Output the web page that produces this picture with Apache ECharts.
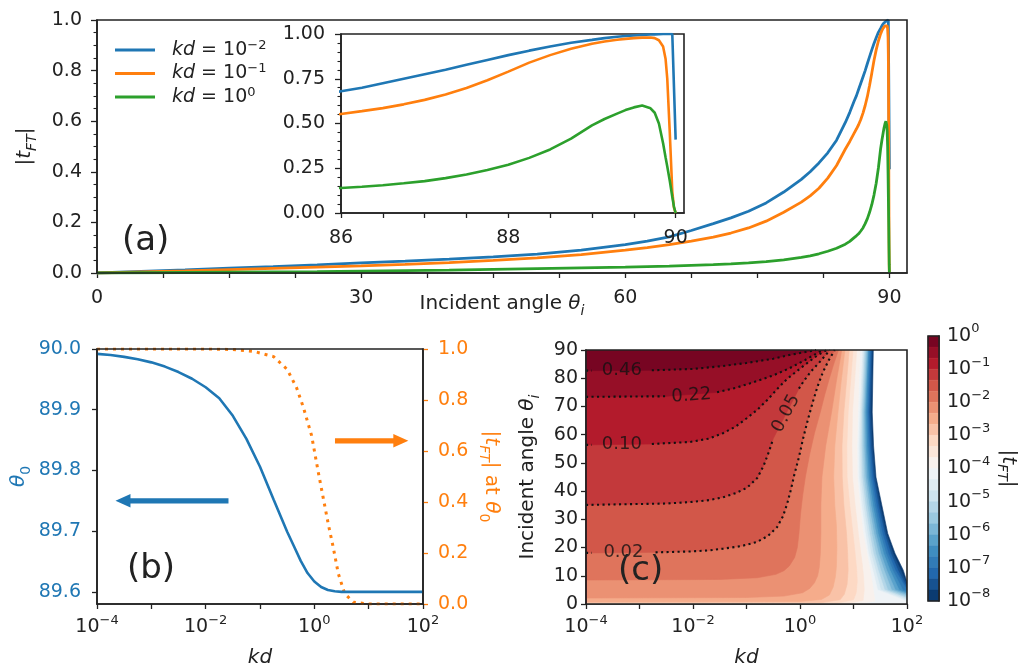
<!DOCTYPE html>
<html>
<head>
<meta charset="utf-8">
<script src="https://cdn.jsdelivr.net/npm/echarts@6.0.0/dist/echarts.min.js"></script>
<style>
html,body{margin:0;padding:0;background:#ffffff;}
#chart{width:1032px;height:670px;}
</style>
</head>
<body>
<div id="chart"></div>
<script>
// ================= Panel (a): |t_FT| versus incident angle =================
const angleA = [0,5,10,15,20,25,30,35,40,45,50,55,60,62.5,65,67.5,70,72,74,76,78,80,81,82,83,84,85,85.5,86,86.25,86.5,86.75,87,87.25,87.5,87.75,88,88.25,88.5,88.75,89,89.15,89.3,89.4,89.5,89.6,89.7,89.75,89.8,89.85,89.88,89.9,89.93,89.96,89.98,90];
const tKdEm2 = [0,0.006,0.012,0.019,0.025,0.032,0.04,0.047,0.055,0.064,0.075,0.09,0.112,0.126,0.143,0.168,0.195,0.218,0.244,0.277,0.32,0.37,0.40,0.435,0.475,0.525,0.595,0.635,0.68,0.70,0.725,0.75,0.775,0.80,0.828,0.855,0.882,0.907,0.93,0.951,0.967,0.977,0.985,0.989,0.992,0.995,0.997,0.998,0.999,1.0,1.0,1.0,1.0,1.0,1.0,0.41];
const tKdEm1 = [0,0.004,0.008,0.013,0.018,0.023,0.028,0.034,0.041,0.05,0.06,0.073,0.09,0.1,0.112,0.126,0.142,0.158,0.178,0.205,0.24,0.28,0.305,0.335,0.375,0.425,0.49,0.52,0.553,0.569,0.586,0.607,0.632,0.662,0.698,0.742,0.79,0.84,0.882,0.917,0.945,0.958,0.968,0.973,0.977,0.98,0.98,0.977,0.965,0.93,0.86,0.75,0.45,0.12,0.03,0];
const tKdE0  = [0,0.001,0.002,0.003,0.004,0.005,0.007,0.009,0.011,0.014,0.017,0.02,0.023,0.025,0.027,0.03,0.033,0.036,0.04,0.045,0.052,0.062,0.068,0.076,0.086,0.098,0.114,0.125,0.14,0.147,0.155,0.166,0.178,0.195,0.215,0.24,0.27,0.308,0.355,0.415,0.49,0.525,0.555,0.575,0.59,0.6,0.585,0.56,0.5,0.39,0.31,0.26,0.18,0.09,0.035,0];
const legendA = ['kd1e-2','kd1e-1','kd1e0'];
const legendExp = ['−2','−1','0'];
const ticksAx = [0,7.5,15,22.5,30,37.5,45,52.5,60,67.5,75,82.5,90];
const labelsAx = [0,30,60,90];
const ticksInsetX = [86,86.5,87,87.5,88,88.5,89,89.5,90];
const labelsInsetX = [86,88,90];

// ================= Panel (b): theta_0 and |t_FT| at theta_0 versus kd =================
const kdExpTheta0 = [-4,-3.75,-3.5,-3.25,-3,-2.75,-2.5,-2.25,-2,-1.75,-1.5,-1.25,-1,-0.75,-0.5,-0.375,-0.25,-0.125,0,0.125,0.25,0.375,0.5,1,1.5,2];
const theta0 = [89.992,89.990,89.987,89.983,89.978,89.971,89.962,89.951,89.937,89.919,89.890,89.852,89.806,89.752,89.699,89.675,89.651,89.631,89.617,89.608,89.603,89.601,89.6,89.6,89.6,89.6];
const kdExpTAt = [-4,-3,-2,-1.5,-1.1,-0.75,-0.5,-0.33,-0.2,-0.05,0.07,0.16,0.26,0.35,0.44,0.56,0.72,1,2];
const tAtTheta0 = [1,1,1,0.998,0.99,0.97,0.92,0.85,0.77,0.66,0.52,0.42,0.31,0.22,0.12,0.04,0.007,0,0];
const theta0Ticks = [89.6,89.7,89.8,89.9,90.0];
const blueArrow = [-1.58,-3.66,89.75];   // from exp, to exp, theta0
const orangeArrow = [0.38,1.73,0.64];    // from exp, to exp, |t|

// ================= Panel (c): filled contours of |t_FT| (log10 kd, angle) =================
const levelExp = [0,-0.333,-0.667,-1,-1.333,-1.667,-2,-2.333,-2.667,-3,-3.333,-3.667,-4,-4.333,-4.667,-5,-5.333,-5.667,-6,-6.333,-6.667,-7,-7.333,-7.667,-8];
// boundary of region |t| >= level (points: [log10 kd, angle]); index 0 -> level 10^-1/3
const levelBoundaries = [
  [[-4,82.7],[-3.89,82.7],[-2.77,82.8],[-2,83.3],[-1.5,84.2],[-1,85.4],[-0.5,86.9],[-0.2,88.2],[0.3,90]],
  [[-4,73.4],[-2.5,73.6],[-1.55,75.0],[-1.2,76.6],[-0.93,78.2],[-0.5,81],[-0.19,83.6],[0.1,86.5],[0.32,88.9],[0.43,90]],
  [[-4,56.4],[-3.89,56.4],[-2.77,56.7],[-2.06,57.4],[-1.7,58.6],[-1.44,60.5],[-1.2,62.9],[-0.99,65.9],[-0.8,68.8],[-0.6,72.5],[-0.43,76.1],[-0.25,79.6],[-0.06,82.5],[0.15,85.6],[0.32,88],[0.5,90]],
  [[-4,35.1],[-2.5,35.6],[-2.06,36.1],[-1.7,36.8],[-1.44,37.8],[-1.2,39.3],[-0.99,41.2],[-0.8,44.6],[-0.68,49],[-0.58,54],[-0.5,58.6],[-0.02,76.3],[0.06,78.7],[0.2,82.3],[0.37,85.8],[0.56,90]],
  [[-4,18.1],[-3.89,18.1],[-2.7,18.3],[-2.06,18.6],[-1.7,19.0],[-1.44,19.6],[-1.1,20.5],[-0.8,22.0],[-0.6,24.1],[-0.43,27.2],[-0.32,31],[-0.24,35.5],[-0.17,40.5],[-0.11,45.5],[-0.02,52],[0.06,58.8],[0.15,65.5],[0.24,71.6],[0.33,77.2],[0.43,82.2],[0.54,86.5],[0.65,90]],
  [[-4,8.5],[-1.5,8.7],[-0.8,9.3],[-0.45,10.5],[-0.3,11.8],[-0.2,13.5],[-0.1,16.5],[-0.05,20],[-0.02,25],[0.01,32],[0.05,38.5],[0.1,45],[0.18,53],[0.27,60.5],[0.38,68],[0.46,74],[0.55,80],[0.63,85],[0.72,90]],
  [[-4,2.1],[-1,2.3],[-0.3,2.8],[0.05,4],[0.18,5.5],[0.27,7.5],[0.33,10],[0.36,13],[0.38,18],[0.39,25],[0.39,35],[0.41,45],[0.48,56],[0.59,68],[0.68,79],[0.78,90]],
  [[-4,0.7],[0,0.9],[0.4,1.6],[0.55,3.2],[0.62,6],[0.66,9.5],[0.68,13],[0.69,20],[0.68,28],[0.65,35],[0.63,45],[0.65,56],[0.71,68],[0.77,79],[0.84,90]],
  [[-4,0.35],[0.4,0.5],[0.75,1.5],[0.83,3.5],[0.88,7],[0.9,12],[0.89,18],[0.87,25],[0.82,35],[0.79,45],[0.785,56],[0.82,68],[0.87,79],[0.92,90]],
  [[-4,0.2],[0.7,0.35],[1.0,1.5],[1.05,4],[1.07,8],[1.06,12],[1.03,18],[0.99,25],[0.93,35],[0.88,45],[0.875,56],[0.9,68],[0.945,79],[0.99,90]],
  [[-4,0.1],[0.9,0.25],[1.18,1.3],[1.2,5],[1.19,9],[1.17,13],[1.13,19],[1.09,25],[1.03,35],[0.98,45],[0.97,56],[0.98,68],[1.02,79],[1.06,90]],
  [[-4,0.05],[1.1,0.15],[1.4,1],[1.37,5],[1.33,10],[1.29,14],[1.23,20],[1.18,25],[1.12,35],[1.07,45],[1.065,56],[1.08,68],[1.1,79],[1.12,90]],
  [[2,0],[2,1.0],[1.45,5],[1.36,12],[1.28,18],[1.22,25],[1.15,35],[1.10,45],[1.09,56],[1.11,68],[1.16,90]],
  [[2,0],[2,1.5],[1.51,5],[1.41,12],[1.325,18],[1.26,25],[1.185,35],[1.13,45],[1.12,56],[1.13,68],[1.18,90]],
  [[2,0],[2,2.0],[1.58,5],[1.46,12],[1.37,18],[1.30,25],[1.22,35],[1.16,45],[1.145,56],[1.15,68],[1.20,90]],
  [[2,0],[2,2.5],[1.64,5],[1.51,12],[1.415,18],[1.34,25],[1.255,35],[1.19,45],[1.17,56],[1.17,68],[1.22,90]],
  [[2,0],[2,3.0],[1.71,5],[1.57,12],[1.465,18],[1.38,25],[1.29,35],[1.22,45],[1.195,56],[1.19,68],[1.24,90]],
  [[2,0],[2,3.5],[1.78,5],[1.62,12],[1.51,18],[1.42,25],[1.325,35],[1.25,45],[1.22,56],[1.21,68],[1.26,90]],
  [[2,0],[2,4.0],[1.85,5],[1.68,12],[1.56,18],[1.46,25],[1.36,35],[1.28,45],[1.245,56],[1.23,68],[1.27,90]],
  [[2,0],[2,4.5],[1.92,5],[1.73,12],[1.605,18],[1.50,25],[1.395,35],[1.31,45],[1.27,56],[1.25,68],[1.29,90]],
  [[2,0],[2,5.0],[1.78,12],[1.65,18],[1.54,25],[1.43,35],[1.34,45],[1.295,56],[1.27,68],[1.31,90]],
  [[2,0],[2,5.8],[1.83,12],[1.695,18],[1.58,25],[1.465,35],[1.37,45],[1.32,56],[1.29,68],[1.33,90]],
  [[2,0],[2,6.8],[1.88,12],[1.735,18],[1.61,25],[1.495,35],[1.40,45],[1.35,56],[1.32,68],[1.35,90]],
  [[2,0],[2,7.8],[1.93,12],[1.775,18],[1.64,25],[1.53,35],[1.42,45],[1.375,56],[1.35,68],[1.37,90]]
];
const contourLabelText = ['0.46','0.22','0.10','0.05','0.02'];
const contourLabelAt = [[-3.33,82.75],[-2.03,73.8],[-3.33,56.55],[-0.26,67.5],[-3.3,18.2]];
const contourLabelRot = [0,4,0,62,0];
const contourGapAfter = [1,1,1,10,1];

// ================= styling helpers =================
const FONT = 'DejaVu Sans';
const INK = '#222222';
const C_BLUE = '#1f77b4', C_ORANGE = '#ff7f0e', C_GREEN = '#2ca02c';
const RDBU_R = ['#053061','#2166ac','#4393c3','#92c5de','#d1e5f0','#f7f7f7','#fddbc7','#f4a582','#d6604d','#b2182b','#67001f'];
function hexRgb(h){return [parseInt(h.substr(1,2),16),parseInt(h.substr(3,2),16),parseInt(h.substr(5,2),16)];}
function cmap(t){
  t = Math.max(0, Math.min(1, t));
  const s = t * 10, i = Math.min(9, Math.floor(s)), f = s - i;
  const a = hexRgb(RDBU_R[i]), b = hexRgb(RDBU_R[i+1]);
  return 'rgb(' + a.map((v,j)=>Math.round(v + (b[j]-v)*f)).join(',') + ')';
}
function bandColor(b){ return cmap(1 - (b + 0.5) / 24); }
function rs(size, color, lh){
  const small = Math.round(size*0.7);
  const L = lh || size + 8;
  return {
    n:{fontFamily:FONT,fontSize:size,color:color,lineHeight:L},
    i:{fontFamily:FONT,fontStyle:'italic',fontSize:size,color:color,lineHeight:L},
    sub:{fontFamily:FONT,fontStyle:'italic',fontSize:small,color:color,verticalAlign:'bottom',lineHeight:small+2},
    subn:{fontFamily:FONT,fontSize:small,color:color,verticalAlign:'bottom',lineHeight:small+2},
    sup:{fontFamily:FONT,fontSize:small,color:color,verticalAlign:'top',lineHeight:small+2}
  };
}
function nameStyle(size, color){ return {fontFamily:FONT, fontSize:size, color:color, rich:rs(size,color)}; }
function expStr(e){ return (e < 0 ? '−' : '') + Math.abs(e); }
function pow10(v){ const e = Math.round(v); return '{n|10}{sup|' + expStr(e) + '}'; }
function pow10Even(v){ const e = Math.round(v); return (e % 2 === 0) ? pow10(v) : ''; }
const T_FT = '{n||}{i|t}{sub|FT}{n||}';
const INC_ANGLE = '{n|Incident angle }{i|θ}{sub|i}';

const LW = 1.6;
function frameGrid(o){ return Object.assign({show:true,borderColor:INK,borderWidth:LW,backgroundColor:'transparent',z:5}, o); }
function baseAxis(extra){
  return Object.assign({
    type:'value',
    axisLine:{show:true,onZero:false,lineStyle:{color:INK,width:LW}},
    axisTick:{show:true,length:5,lineStyle:{color:INK,width:1.3}},
    axisLabel:{fontFamily:FONT,fontSize:19,color:INK,rich:rs(19,INK)},
    splitLine:{show:false},
    nameTextStyle:nameStyle(20,INK)
  }, extra);
}
function deepAxis(extra, over){
  const a = baseAxis(extra);
  if (over) for (const k in over) a[k] = Object.assign({}, a[k], over[k]);
  return a;
}

// ================= build series data =================
const seriesA = [tKdEm2, tKdEm1, tKdE0];
const colorsA = [C_BLUE, C_ORANGE, C_GREEN];
const lineData = arr => angleA.map((a,i)=>[a, arr[i]]);

const contourSegments = [];
for (let k = 0; k < 5; k++) {
  const pts = levelBoundaries[k], g = contourGapAfter[k];
  contourSegments.push({coords: pts.slice(0, g+1)});
  contourSegments.push({coords: pts.slice(g+1)});
}

const fillData = [];
for (let k = levelBoundaries.length - 1; k >= 0; k--) fillData.push([-4, 0, k]);

const cbData = [];
for (let b = 0; b < levelExp.length - 1; b++) cbData.push([0, levelExp[b+1], levelExp[b], b]);

function arrowRender(color){
  return function(params, api){
    const a = api.coord([api.value(0), api.value(2)]);
    const b = api.coord([api.value(1), api.value(2)]);
    const dir = b[0] > a[0] ? 1 : -1, hw = 2.6, HW = 6.8, hl = 15;
    const y = a[1], hx = b[0] - dir*hl;
    return {type:'polygon', shape:{points:[[a[0],y-hw],[hx,y-hw],[hx,y-HW],[b[0],y],[hx,y+HW],[hx,y+hw],[a[0],y+hw]]}, style:{fill:color}};
  };
}

const series = [];
seriesA.forEach((arr, i) => {
  series.push({type:'line', name:legendA[i], xAxisIndex:0, yAxisIndex:0, data:lineData(arr), symbol:'none', z:3,
    lineStyle:{color:colorsA[i], width:2.8}, itemStyle:{color:colorsA[i]}, animation:false});
});
seriesA.forEach((arr, i) => {
  series.push({type:'line', name:legendA[i], xAxisIndex:1, yAxisIndex:1, data:lineData(arr), symbol:'none', z:22,
    lineStyle:{color:colorsA[i], width:2.6}, itemStyle:{color:colorsA[i]}, animation:false});
});
series.push({type:'line', xAxisIndex:2, yAxisIndex:3, data:kdExpTAt.map((e,i)=>[e, tAtTheta0[i]]), symbol:'none', z:3,
  lineStyle:{color:C_ORANGE, width:3, type:[3,5]}, animation:false});
series.push({type:'line', xAxisIndex:2, yAxisIndex:2, data:kdExpTheta0.map((e,i)=>[e, theta0[i]]), symbol:'none', z:4,
  lineStyle:{color:C_BLUE, width:2.6}, animation:false});
series.push({type:'custom', xAxisIndex:2, yAxisIndex:2, data:[blueArrow], encode:{x:[0,1],y:2}, renderItem:arrowRender(C_BLUE), z:4, silent:true, animation:false});
series.push({type:'custom', xAxisIndex:2, yAxisIndex:3, data:[orangeArrow], encode:{x:[0,1],y:2}, renderItem:arrowRender(C_ORANGE), z:4, silent:true, animation:false});
series.push({type:'custom', xAxisIndex:3, yAxisIndex:4, data:fillData, encode:{x:0,y:1}, clip:true, silent:true, animation:false, z:2,
  renderItem:function(params, api){
    const k = api.value(2);
    const pts = [[-4,90],[-4,0]].concat(levelBoundaries[k]).map(p => api.coord(p));
    const c = bandColor(k);
    return {type:'polygon', shape:{points:pts}, style:{fill:c, stroke:c, lineWidth:0.6}};
  }});
series.push({type:'lines', coordinateSystem:'cartesian2d', xAxisIndex:3, yAxisIndex:4, polyline:true, data:contourSegments, z:3, silent:true, animation:false,
  lineStyle:{color:'#111', width:2.1, type:[2.1,3.4], opacity:1}});
series.push({type:'scatter', xAxisIndex:3, yAxisIndex:4, symbolSize:0, z:4, silent:true, animation:false,
  data:contourLabelAt.map((p,i)=>({value:p, name:contourLabelText[i], label:{rotate:contourLabelRot[i]}})),
  label:{show:true, position:'inside', formatter:'{b}', fontFamily:FONT, fontSize:18, color:'#111'}});
series.push({type:'custom', xAxisIndex:4, yAxisIndex:5, data:cbData, encode:{x:0,y:[1,2]}, silent:true, animation:false, z:2,
  renderItem:function(params, api){
    const p1 = api.coord([0, api.value(2)]), p2 = api.coord([1, api.value(1)]);
    const c = bandColor(api.value(3));
    return {type:'rect', shape:{x:p1[0], y:p1[1], width:p2[0]-p1[0], height:p2[1]-p1[1]}, style:{fill:c, stroke:c, lineWidth:0.5}};
  }});

const option = {
  animation:false,
  backgroundColor:'#ffffff',
  grid:[
    frameGrid({left:97, top:20, width:810, height:253}),
    frameGrid({left:341, top:34, width:343, height:179, backgroundColor:'#ffffff', z:20}),
    frameGrid({left:97, top:349, width:326, height:255}),
    frameGrid({left:586, top:350, width:321, height:254}),
    frameGrid({left:928, top:336, width:11, height:265})
  ],
  xAxis:[
    deepAxis({gridIndex:0, min:0, max:92, name:INC_ANGLE, nameLocation:'middle', nameGap:17, nameMoveOverlap:false},
      {axisTick:{customValues:ticksAx}, axisLabel:{customValues:labelsAx, margin:16}}),
    deepAxis({gridIndex:1, min:86, max:90.1, z:21},
      {axisTick:{customValues:ticksInsetX}, axisLabel:{customValues:labelsInsetX, margin:16}}),
    deepAxis({gridIndex:2, min:-4, max:2, interval:1, name:'{i|kd}', nameLocation:'middle', nameGap:40},
      {axisLabel:{formatter:pow10Even, margin:10}}),
    deepAxis({gridIndex:3, min:-4, max:2, interval:1, name:'{i|kd}', nameLocation:'middle', nameGap:40},
      {axisLabel:{formatter:pow10Even, margin:10}}),
    {gridIndex:4, type:'value', min:0, max:1, show:false}
  ],
  yAxis:[
    deepAxis({gridIndex:0, min:0, max:1, interval:0.2, name:T_FT, nameLocation:'middle', nameGap:58},
      {axisTick:{length:6}, minorTick:{show:true, splitNumber:4, length:3.5, lineStyle:{color:INK,width:1.1}},
       axisLabel:{formatter:v=>v.toFixed(1), margin:15}}),
    deepAxis({gridIndex:1, min:0, max:1, interval:0.25, z:21},
      {axisTick:{length:6}, minorTick:{show:true, splitNumber:5, length:3.5, lineStyle:{color:INK,width:1.1}},
       axisLabel:{formatter:v=>v.toFixed(2), margin:16}}),
    deepAxis({gridIndex:2, min:89.58, max:90.0, name:'{i|θ}{subn|0}', nameLocation:'middle', nameGap:64, nameTextStyle:nameStyle(20,C_BLUE)},
      {axisTick:{customValues:theta0Ticks}, axisLabel:{customValues:theta0Ticks, formatter:v=>v.toFixed(1), color:C_BLUE, margin:16}}),
    deepAxis({gridIndex:2, min:0, max:1, interval:0.2, position:'right', name:'{n||}{i|t}{sub|FT}{n|| at }{i|θ}{subn|0}', nameLocation:'middle', nameGap:54, nameRotate:-90, nameTextStyle:nameStyle(20,C_ORANGE)},
      {axisTick:{lineStyle:{color:C_ORANGE,width:1.3}}, axisLabel:{formatter:v=>v.toFixed(1), color:C_ORANGE, margin:15}}),
    deepAxis({gridIndex:3, min:0, max:90, interval:10, name:INC_ANGLE, nameLocation:'middle', nameGap:44},
      {axisLabel:{margin:8}}),
    deepAxis({gridIndex:4, min:-8, max:0, interval:1, position:'right', name:T_FT, nameLocation:'middle', nameGap:46, nameRotate:-90},
      {axisTick:{show:false}, axisLabel:{formatter:pow10, margin:8}})
  ],
  legend:{
    show:true, left:110, top:34, orient:'vertical', icon:'rect', itemWidth:40, itemHeight:3, itemGap:1.5,
    selectedMode:false, data:legendA,
    formatter:function(name){ const i = legendA.indexOf(name); return '{i|kd} {n|=} {n|10}{sup|' + legendExp[i] + '}'; },
    textStyle:{fontFamily:FONT, fontSize:19, color:INK, lineHeight:22, padding:[0,0,0,12], rich:rs(19,INK,22)}
  },
  graphic:[
    {type:'text', x:122, y:241, z:30, style:{text:'(a)', fontFamily:FONT, fontSize:34, fill:INK, verticalAlign:'middle'}},
    {type:'text', x:127, y:569, z:30, style:{text:'(b)', fontFamily:FONT, fontSize:34, fill:INK, verticalAlign:'middle'}},
    {type:'text', x:618, y:571, z:30, style:{text:'(c)', fontFamily:FONT, fontSize:34, fill:INK, verticalAlign:'middle'}}
  ],
  series:series
};
const chart = echarts.init(document.getElementById('chart'), null, {renderer:'canvas'});
chart.setOption(option);
</script>
</body>
</html>
